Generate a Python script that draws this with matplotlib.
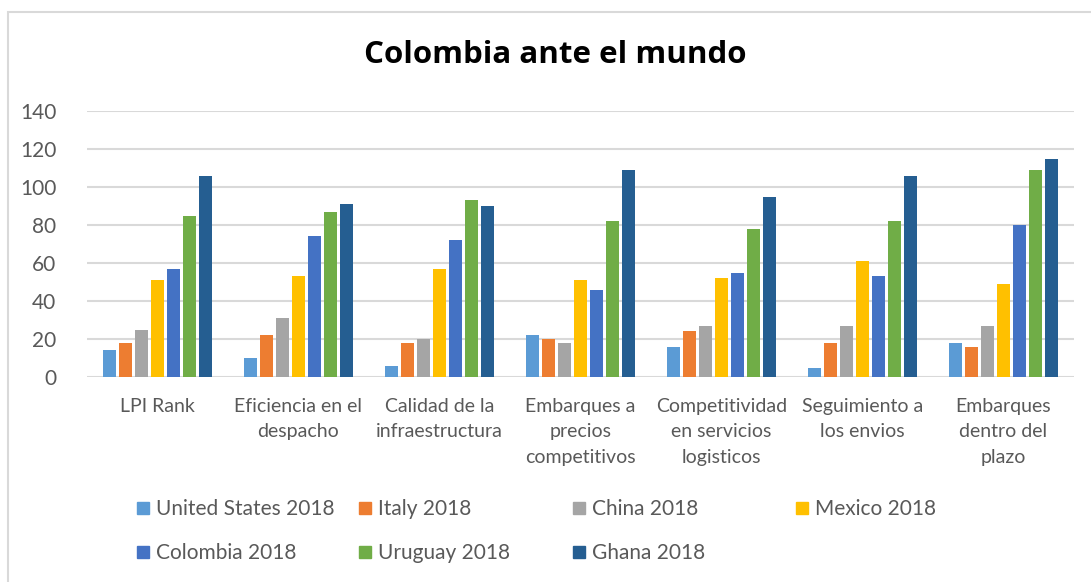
import matplotlib.pyplot as plt
import numpy as np
from matplotlib.patches import Rectangle
from matplotlib.lines import Line2D

categories = ['LPI Rank', 'Eficiencia en el\ndespacho', 'Calidad de la\ninfraestructura',
              'Embarques a\nprecios\ncompetitivos', 'Competitividad\nen servicios\nlogisticos',
              'Seguimiento a\nlos envios', 'Embarques\ndentro del\nplazo']
series = ['United States 2018', 'Italy 2018', 'China 2018', 'Mexico 2018',
          'Colombia 2018', 'Uruguay 2018', 'Ghana 2018']
united_states = [14, 10, 6, 22, 16, 5, 18]
italy = [18, 22, 18, 20, 24, 18, 16]
china = [25, 31, 20, 18, 27, 27, 27]
mexico = [51, 53, 57, 51, 52, 61, 49]
colombia = [57, 74, 72, 46, 55, 53, 80]
uruguay = [85, 87, 93, 82, 78, 82, 109]
ghana = [106, 91, 90, 109, 95, 106, 115]
values = [united_states, italy, china, mexico, colombia, uruguay, ghana]
colors = ['#5B9BD5', '#ED7D31', '#A5A5A5', '#FFC000', '#4472C4', '#70AD47', '#255E91']

plt.rcParams['font.family'] = ['Lato', 'DejaVu Sans']
W, H = 1091, 582
fig = plt.figure(figsize=(W / 100, H / 100), dpi=100)
fig.patches.append(Rectangle((8 / W, -0.05), 1.2, 1.05 - 12 / H, transform=fig.transFigure,
                             fill=False, edgecolor='#D9D9D9', linewidth=1.5))
ax = fig.add_axes([87 / W, 1 - 377 / H, (1074 - 87) / W, (377 - 111) / H])

x = np.arange(len(categories))
step = 0.8 / len(series)
for i, (name, vals) in enumerate(zip(series, values)):
    ax.bar(x - 0.4 + step * (i + 0.5), vals, width=step * 0.82, color=colors[i], label=name, zorder=3)

ax.set_xlim(-0.5, len(categories) - 0.5)
ax.set_ylim(0, 140)
ax.set_yticks(range(0, 141, 20))
ax.yaxis.grid(True, color='#D9D9D9', linewidth=1.5, zorder=0)
for s in ax.spines.values():
    s.set_visible(False)
ax.set_xticks(x)
ax.set_xticklabels(categories, fontsize=14, color='#595959', linespacing=1.6, va='top')
ax.tick_params(axis='both', length=0, labelcolor='#595959')
ax.tick_params(axis='y', labelsize=15, pad=22)
ax.tick_params(axis='x', pad=15)

fig.text(555 / W, 1 - 55 / H, 'Colombia ante el mundo', ha='center', va='center',
         fontsize=22.5, fontweight='bold', color='black', family=['Open Sans', 'DejaVu Sans'])

col_x = [126, 348, 562, 785]
row_y = [509, 553]
for i, name in enumerate(series):
    h = Line2D([], [], marker='s', linestyle='', markersize=9, color=colors[i])
    fig.legend([h], [name], loc='center left', frameon=False, fontsize=15,
               bbox_to_anchor=(col_x[i % 4] / W, 1 - row_y[i // 4] / H),
               handlelength=0.6, handletextpad=0.35, borderpad=0, labelcolor='#595959')

fig.savefig('out.png', dpi=100)
